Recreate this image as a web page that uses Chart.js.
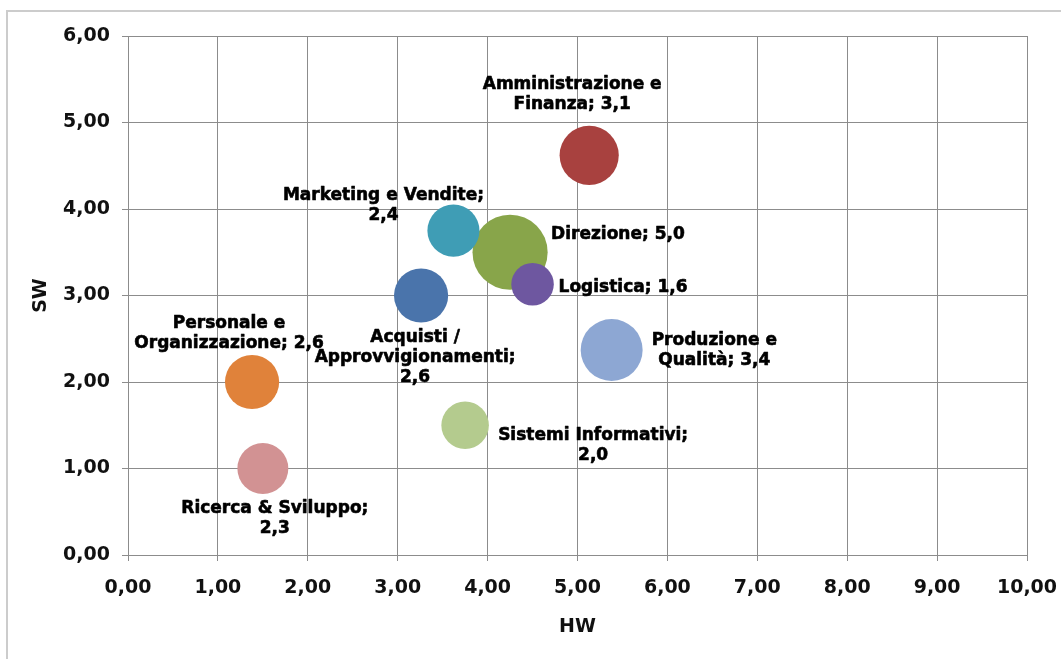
<!DOCTYPE html>
<html>
<head>
<meta charset="utf-8">
<title>HW / SW</title>
<script src="https://cdn.jsdelivr.net/npm/chart.js@4/dist/chart.umd.min.js"></script>
<style>
  html, body { margin: 0; padding: 0; background: #ffffff; }
  #wrap { width: 1061px; height: 659px; }
</style>
</head>
<body>
<div id="wrap"><canvas id="chart" width="1061" height="659"></canvas></div>
<script>
// Areas (one bubble each), with hardware score, software score and bubble size
const categories = [
  'Acquisti / Approvvigionamenti',
  'Amministrazione e Finanza',
  'Direzione',
  'Logistica',
  'Marketing e Vendite',
  'Personale e Organizzazione',
  'Produzione e Qualità',
  'Ricerca & Sviluppo',
  'Sistemi Informativi'
];
const hwValues   = [3.26, 5.13, 4.25, 4.50, 3.62, 1.38, 5.38, 1.50, 3.75];
const swValues   = [3.00, 4.62, 3.50, 3.13, 3.75, 2.00, 2.37, 1.00, 1.50];
const sizeValues = [2.6, 3.1, 5.0, 1.6, 2.4, 2.6, 3.4, 2.3, 2.0];

// Axis ranges and tick step
const xRange = [0, 10];
const yRange = [0, 6];
const tickStep = 1;

// Styling
const bubbleColors = [
  '#4A74AB', '#A8413F', '#88A54A', '#6E57A0', '#3F9DB5',
  '#E0823A', '#8DA7D3', '#D29293', '#B4CB8E'
];
const BUBBLE_SCALE = 16.8;          // px radius per sqrt(size): bubble area follows size
const LABEL_FONT = 'bold 17px "DejaVu Sans", Verdana, sans-serif';
const LABEL_LINE = 20;
// Label block placement relative to each bubble centre
const labelLayout = [
  { anchor: 'center', dx: -6,  dy: 62,  wrap: 215 },
  { anchor: 'center', dx: -17, dy: -61, wrap: 190 },
  { anchor: 'left',   dx: 41,  dy: -18, wrap: 400 },
  { anchor: 'left',   dx: 26,  dy: 3,   wrap: 400 },
  { anchor: 'center', dx: -70, dy: -25, wrap: 210 },
  { anchor: 'center', dx: -23, dy: -48, wrap: 200 },
  { anchor: 'left',   dx: 40,  dy: 1,   wrap: 140 },
  { anchor: 'center', dx: 12,  dy: 50,  wrap: 198 },
  { anchor: 'left',   dx: 33,  dy: 20,  wrap: 205 }
];

const fmt = (v, d) => v.toFixed(d).replace('.', ',');

const points = categories.map((c, i) => ({
  x: hwValues[i],
  y: swValues[i],
  r: BUBBLE_SCALE * Math.sqrt(sizeValues[i])
}));

function wrapWords(ctx, text, maxWidth) {
  const words = text.split(' ');
  const lines = [];
  let cur = '';
  for (const w of words) {
    const test = cur ? cur + ' ' + w : w;
    if (cur && ctx.measureText(test).width > maxWidth) {
      lines.push(cur);
      cur = w;
    } else {
      cur = test;
    }
  }
  if (cur) lines.push(cur);
  return lines;
}

const frameAndBackground = {
  id: 'frameAndBackground',
  beforeDraw(chart) {
    const ctx = chart.ctx;
    ctx.save();
    ctx.fillStyle = '#ffffff';
    ctx.fillRect(0, 0, chart.width, chart.height);
    ctx.strokeStyle = '#cccccc';
    ctx.lineWidth = 2;
    ctx.strokeRect(7, 11, chart.width + 40, chart.height + 40);
    ctx.restore();
  }
};

const bubbleLabels = {
  id: 'bubbleLabels',
  afterDatasetsDraw(chart) {
    const ctx = chart.ctx;
    const meta = chart.getDatasetMeta(0);
    ctx.save();
    ctx.font = LABEL_FONT;
    ctx.fillStyle = '#000000';
    ctx.strokeStyle = '#000000';
    ctx.lineWidth = 0.6;
    ctx.lineJoin = 'round';
    ctx.textBaseline = 'middle';
    ctx.textAlign = 'center';
    meta.data.forEach((el, i) => {
      const lay = labelLayout[i];
      const text = categories[i] + '; ' + fmt(sizeValues[i], 1);
      const lines = wrapWords(ctx, text, lay.wrap);
      const blockW = Math.max(...lines.map(l => ctx.measureText(l).width));
      const cx = lay.anchor === 'left' ? el.x + lay.dx + blockW / 2 : el.x + lay.dx;
      const cy = el.y + lay.dy;
      const top = cy - (lines.length - 1) * LABEL_LINE / 2;
      lines.forEach((l, k) => {
        ctx.fillText(l, cx, top + k * LABEL_LINE);
        ctx.strokeText(l, cx, top + k * LABEL_LINE);
      });
    });
    ctx.restore();
  }
};

const gridColor = '#8c8c8c';
const tickFont = { family: '"DejaVu Sans", Verdana, sans-serif', size: 19, weight: 'bold' };
const titleFont = { family: '"DejaVu Sans", Verdana, sans-serif', size: 19, weight: 'bold' };

new Chart(document.getElementById('chart'), {
  type: 'bubble',
  data: {
    datasets: [{
      label: 'Aree',
      data: points,
      backgroundColor: bubbleColors,
      borderColor: bubbleColors,
      borderWidth: 0,
      hoverBorderWidth: 0,
      clip: false
    }]
  },
  options: {
    responsive: false,
    animation: false,
    events: [],
    layout: { autoPadding: false, padding: { top: 36, right: 34, left: 0, bottom: 0 } },
    plugins: {
      legend: { display: false },
      tooltip: { enabled: false }
    },
    scales: {
      x: {
        type: 'linear',
        min: xRange[0],
        max: xRange[1],
        afterFit(scale) {
          scale.height = 104;
          scale.paddingLeft = 0;
          scale.paddingRight = 0;
        },
        ticks: {
          stepSize: tickStep,
          color: '#111111',
          font: tickFont,
          padding: 16,
          maxRotation: 0,
          callback: v => fmt(v, 2)
        },
        grid: { color: gridColor, lineWidth: 1, tickLength: 6, drawTicks: true },
        border: { color: gridColor, width: 1 },
        title: {
          display: true,
          text: 'HW',
          color: '#111111',
          font: titleFont,
          padding: { top: 0, bottom: 21 }
        }
      },
      y: {
        type: 'linear',
        min: yRange[0],
        max: yRange[1],
        afterFit(scale) {
          scale.width = 128;
          scale.paddingTop = 0;
          scale.paddingBottom = 0;
        },
        ticks: {
          stepSize: tickStep,
          color: '#111111',
          font: tickFont,
          padding: 12,
          callback: v => fmt(v, 2)
        },
        grid: { color: gridColor, lineWidth: 1, tickLength: 6, drawTicks: true },
        border: { color: gridColor, width: 1 },
        title: {
          display: true,
          text: 'SW',
          color: '#111111',
          font: titleFont,
          padding: { top: 30, bottom: 0 }
        }
      }
    }
  },
  plugins: [frameAndBackground, bubbleLabels]
});
</script>
</body>
</html>
